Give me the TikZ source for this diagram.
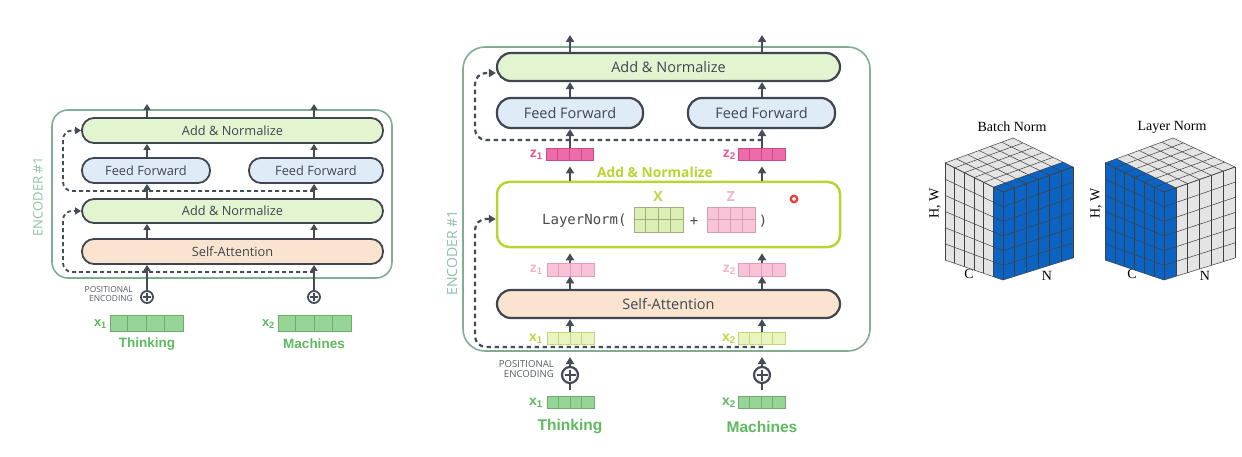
\documentclass[tikz,border=0pt]{standalone}
\usepackage{fontspec}
\setmainfont{Open Sans}
\newfontfamily\arb{Liberation Sans}
\newfontfamily\mono{DejaVu Sans Mono}
\newfontfamily\tms{Liberation Serif}
\usetikzlibrary{arrows.meta,calc}
\definecolor{boxline}{HTML}{3F4651}
\definecolor{anfill}{HTML}{E3F4D0}
\definecolor{fffill}{HTML}{E0EBF8}
\definecolor{safill}{HTML}{FBE4CF}
\definecolor{encline}{HTML}{7FAE92}
\definecolor{enctext}{HTML}{8CC3A6}
\definecolor{grtext}{HTML}{5DBB5D}
\definecolor{xfill}{HTML}{97D497}
\definecolor{xline}{HTML}{6AAE6A}
\definecolor{lxfill}{HTML}{E8F5BE}
\definecolor{lxline}{HTML}{C3D67C}
\definecolor{lxtext}{HTML}{C4D245}
\definecolor{zdfill}{HTML}{EE6BAA}
\definecolor{zdline}{HTML}{D0468A}
\definecolor{zdtext}{HTML}{E8559A}
\definecolor{zlfill}{HTML}{F8C3D8}
\definecolor{zlline}{HTML}{E49DBB}
\definecolor{zltext}{HTML}{F4B3CC}
\definecolor{lnline}{HTML}{BBD433}
\definecolor{mxfill}{HTML}{DCEFB5}
\definecolor{mxline}{HTML}{9DAE80}
\definecolor{mzfill}{HTML}{F7C4D8}
\definecolor{mzline}{HTML}{D79DB6}
\definecolor{cubegray}{HTML}{E4E4E4}
\definecolor{cubeblue}{HTML}{0B64C4}
\definecolor{cubeline}{HTML}{404040}
\definecolor{arrowc}{HTML}{454C56}
\definecolor{petext}{HTML}{555C66}
\definecolor{monotext}{HTML}{4A4A4A}
\definecolor{cursorred}{HTML}{E8403F}
\newcommand\myvec[7]{%
  \node[draw=#7, fill=#6, line width=0.8pt, inner sep=0pt, minimum width={4*#4pt}, minimum height={#5pt}] (#1) at (#2,#3) {};
  \foreach \k in {1,2,3} \draw[#7, line width=0.8pt] ($(#1.south west)+(\k*#4pt,0)$) -- ($(#1.north west)+(\k*#4pt,0)$);
}
\newcommand\mygrid[7]{%
  \node[draw=#7, fill=#6, line width=0.8pt, inner sep=0pt, minimum width={4*#4pt}, minimum height={2*#5pt}] (#1) at (#2,#3) {};
  \foreach \k in {1,2,3} \draw[#7, line width=0.8pt] ($(#1.south west)+(\k*#4pt,0)$) -- ($(#1.north west)+(\k*#4pt,0)$);
  \draw[#7, line width=0.8pt] (#1.west) -- (#1.east);
}
% face grid: corners P00 P10 P01 P11
\newcommand\facegrid[4]{%
  \foreach \i in {0,...,6} {
    \draw[cubegrid] ($(#1)!\i/6!(#2)$) -- ($(#3)!\i/6!(#4)$);
    \draw[cubegrid] ($(#1)!\i/6!(#3)$) -- ($(#2)!\i/6!(#4)$);
  }
}
\tikzset{
  pillA/.style={draw=boxline, line width=1.8pt, rounded corners=12pt, text=boxline, inner sep=0pt, font=\fontsize{12.8}{14}\selectfont},
  pillB/.style={draw=boxline, line width=2.2pt, rounded corners=14pt, text=boxline, inner sep=0pt, font=\fontsize{14.5}{16}\selectfont},
  encbox/.style={draw=encline, line width=1.6pt, inner sep=0pt},
  arrA/.style={draw=arrowc, line width=1.8pt, -{Triangle[length=6pt,width=7pt]}},
  arrB/.style={draw=arrowc, line width=2.2pt, -{Triangle[length=7pt,width=8pt]}},
  dashA/.style={draw=arrowc, line width=1.8pt, dash pattern=on 4pt off 3pt, rounded corners=9pt, -{Triangle[length=6pt,width=7pt]}},
  dashB/.style={draw=arrowc, line width=2.2pt, dash pattern=on 4.5pt off 3.5pt, rounded corners=11pt, -{Triangle[length=7pt,width=8pt]}},
  peA/.style={circle, draw=arrowc, line width=1.8pt, minimum size=12pt, inner sep=0pt},
  peB/.style={circle, draw=arrowc, line width=2.2pt, minimum size=16pt, inner sep=0pt},
  wordA/.style={text=grtext, font=\arb\bfseries\fontsize{13.5}{15}\selectfont},
  wordB/.style={text=grtext, font=\arb\bfseries\fontsize{15.5}{17}\selectfont},
  cubegrid/.style={draw=cubeline, line width=0.5pt},
  cubelab/.style={font=\tms\fontsize{14}{16}\selectfont, text=black},
  lblA/.style={anchor=east, font=\arb\bfseries\fontsize{13}{15}\selectfont, inner sep=0pt},
  lblB/.style={anchor=east, font=\arb\bfseries\fontsize{14}{16}\selectfont, inner sep=0pt},
}
\begin{document}
\begin{tikzpicture}[x=1pt,y=-1pt]
\useasboundingbox (0,0) rectangle (1242,457);
\fill[white] (0,0) rectangle (1242,457);

% ================= LEFT ENCODER =================
\node[encbox, rounded corners=16pt, minimum width=340pt, minimum height=168pt] (encA) at (222,194) {};
\node[rotate=90, text=enctext, font=\fontsize{13}{15}\selectfont] (encAt) at (38,197) {ENCODER \#1};
\node[pillA, fill=anfill, minimum width=301pt, minimum height=25pt] (an2) at (232.5,130.5) {Add \& Normalize};
\node[pillA, fill=fffill, minimum width=128pt, minimum height=25pt] (ffL) at (146,170.5) {Feed Forward};
\node[pillA, fill=fffill, minimum width=134pt, minimum height=25pt] (ffR) at (316,170.5) {Feed Forward};
\node[pillA, fill=anfill, minimum width=301pt, minimum height=24pt] (an1) at (232.5,211) {Add \& Normalize};
\node[pillA, fill=safill, minimum width=301pt, minimum height=25pt] (sa) at (232.5,251.5) {Self-Attention};
\node[peA] (pe1) at (147,297) {};
\node[peA] (pe2) at (314,297) {};
\foreach \p in {pe1,pe2} {
  \draw[arrowc, line width=1.6pt] ($(\p.center)+(0,4.2pt)$) -- ($(\p.center)+(0,-4.2pt)$);
  \draw[arrowc, line width=1.6pt] ($(\p.center)+(-4.2pt,0)$) -- ($(\p.center)+(4.2pt,0)$);
}
\node[anchor=east, align=right, text=petext, font=\fontsize{8.4}{8.6}\selectfont, inner sep=0pt] (peAt) at (133,294) {POSITIONAL\\ENCODING};
\coordinate (outA1) at (147,104);
\coordinate (outA2) at (314,104);
\draw[arrA] (pe1.north) -- (sa.south -| pe1);
\draw[arrA] (sa.north -| pe1) -- (an1.south -| pe1);
\draw[arrA] (an1.north -| pe1) -- (ffL.south -| pe1);
\draw[arrA] (ffL.north -| pe1) -- (an2.south -| pe1);
\draw[arrA] (an2.north -| pe1) -- (outA1);
\draw[arrA] (pe2.north) -- (sa.south -| pe2);
\draw[arrA] (sa.north -| pe2) -- (an1.south -| pe2);
\draw[arrA] (an1.north -| pe2) -- (ffR.south -| pe2);
\draw[arrA] (ffR.north -| pe2) -- (an2.south -| pe2);
\draw[arrA] (an2.north -| pe2) -- (outA2);
\coordinate (dA1) at (314,272);
\coordinate (dA2) at (314,191);
\draw[dashA] (dA1) -- (63,272) -- (63,211) -- (an1.west);
\draw[dashA] (dA2) -- (63,191) -- (63,130.5) -- (an2.west);
\myvec{xa1}{146.5}{323}{18.25}{16}{xfill}{xline}
\myvec{xa2}{314.5}{323}{18.25}{16}{xfill}{xline}
\node[lblA, text=grtext] (xa1t) at (107,324) {x\textsubscript{1}};
\node[lblA, text=grtext] (xa2t) at (275,324) {x\textsubscript{2}};
\node[wordA] (thA) at (147,344) {Thinking};
\node[wordA] (maA) at (314,344) {Machines};

% ================= MIDDLE ENCODER =================
\node[encbox, rounded corners=22pt, minimum width=407pt, minimum height=304pt] (encB) at (666.5,199) {};
\node[rotate=90, text=enctext, font=\fontsize{14}{16}\selectfont] (encBt) at (452,253) {ENCODER \#1};
\node[pillB, fill=anfill, minimum width=343pt, minimum height=28pt] (anT) at (668.5,67) {Add \& Normalize};
\node[pillB, fill=fffill, minimum width=146pt, minimum height=30pt] (ffL2) at (570,113) {Feed Forward};
\node[pillB, fill=fffill, minimum width=147pt, minimum height=30pt] (ffR2) at (761.5,113) {Feed Forward};
\node[draw=lnline, line width=2.5pt, rounded corners=12pt, fill=white, minimum width=343pt, minimum height=65pt, inner sep=0pt] (ln) at (668.5,214.5) {};
\node[text=lnline, font=\bfseries\fontsize{13.8}{15}\selectfont, inner sep=0pt] (lnlab) at (655,172) {Add \& Normalize};
\node[pillB, fill=safill, minimum width=343pt, minimum height=28pt] (sa2) at (668.5,304) {Self-Attention};
\node[anchor=west, text=monotext, font=\mono\fontsize{14}{16}\selectfont, inner sep=0pt] (lnt) at (542,221) {LayerNorm(};
\mygrid{mX}{658.5}{219.5}{12.25}{12.5}{mxfill}{mxline}
\mygrid{mZ}{731}{219.5}{12}{12.5}{mzfill}{mzline}
\node[text=lxtext, font=\bfseries\fontsize{14}{16}\selectfont, inner sep=0pt] (mXt) at (658,197) {X};
\node[text=zltext, font=\bfseries\fontsize{14}{16}\selectfont, inner sep=0pt] (mZt) at (731,197) {Z};
\node[text=monotext, font=\mono\fontsize{14}{16}\selectfont, inner sep=0pt] (plus) at (694,221) {+};
\node[text=monotext, font=\mono\fontsize{14}{16}\selectfont, inner sep=0pt] (rpar) at (763,221) {)};
\node[circle, draw=cursorred, line width=2.3pt, minimum size=6.5pt, inner sep=0pt] (cursor) at (794,199) {};
% vectors
\myvec{zd1}{570}{154}{11.75}{12}{zdfill}{zdline}
\myvec{zd2}{761.5}{154}{11.75}{12}{zdfill}{zdline}
\myvec{zl1}{570.5}{269.5}{11.75}{13}{zlfill}{zlline}
\myvec{zl2}{761.5}{269.5}{11.75}{13}{zlfill}{zlline}
\myvec{xl1}{570.5}{338.5}{11.75}{12}{lxfill}{lxline}
\myvec{xl2}{761.5}{338.5}{11.75}{12}{lxfill}{lxline}
\myvec{xg1}{570.5}{402}{11.75}{12}{xfill}{xline}
\myvec{xg2}{761.5}{402}{11.75}{12}{xfill}{xline}
\node[lblB, text=zdtext] (zd1t) at (543,155) {z\textsubscript{1}};
\node[lblB, text=zdtext] (zd2t) at (736,155) {z\textsubscript{2}};
\node[lblB, text=zltext] (zl1t) at (543,270) {z\textsubscript{1}};
\node[lblB, text=zltext] (zl2t) at (736,270) {z\textsubscript{2}};
\node[lblB, text=lxtext] (xl1t) at (543,339) {x\textsubscript{1}};
\node[lblB, text=lxtext] (xl2t) at (736,339) {x\textsubscript{2}};
\node[lblB, text=grtext] (xg1t) at (543,403) {x\textsubscript{1}};
\node[lblB, text=grtext] (xg2t) at (736,403) {x\textsubscript{2}};
\node[peB] (peB1) at (570,375) {};
\node[peB] (peB2) at (762,375) {};
\foreach \p in {peB1,peB2} {
  \draw[arrowc, line width=2pt] ($(\p.center)+(0,5.5pt)$) -- ($(\p.center)+(0,-5.5pt)$);
  \draw[arrowc, line width=2pt] ($(\p.center)+(-5.5pt,0)$) -- ($(\p.center)+(5.5pt,0)$);
}
\node[anchor=east, align=right, text=petext, font=\fontsize{9.6}{10.2}\selectfont, inner sep=0pt] (peBt) at (554,369) {POSITIONAL\\ENCODING};
\node[wordB] (thB) at (570,427) {Thinking};
\node[wordB] (maB) at (762,427) {Machines};
\coordinate (outB1) at (570,35);
\coordinate (outB2) at (762,35);
\coordinate (inB1) at (570,357);
\coordinate (inB2) at (762,357);
\foreach \c/\f/\zd/\zl/\xl/\xg/\pe/\o/\i in {peB1/ffL2/zd1/zl1/xl1/xg1/peB1/outB1/inB1, peB2/ffR2/zd2/zl2/xl2/xg2/peB2/outB2/inB2} {
  \draw[arrB] (anT.north -| \c) -- (\o);
  \draw[arrB] (\f.north -| \c) -- (anT.south -| \c);
  \draw[arrB] (\zd.north -| \c) -- (\f.south -| \c);
  \draw[arrB, shorten >=6pt] (ln.north -| \c) -- (\zd.south -| \c);
  \draw[arrB, shorten >=5pt] (\zl.north -| \c) -- (ln.south -| \c);
  \draw[arrB] (sa2.north -| \c) -- (\zl.south -| \c);
  \draw[arrB] (\xl.north -| \c) -- (sa2.south -| \c);
  \draw[arrB] (\pe.north) -- (\i);
  \draw[arrowc, line width=2.2pt, shorten >=6pt] (\pe.south) -- (\xg.north -| \c);
}
\coordinate (dB1) at (763,347);
\coordinate (dB2) at (762,140);
\draw[dashB] (dB1) -- (475,347) -- (475,219) -- (ln.west |- 0,219);
\draw[dashB] (dB2) -- (475,140) -- (475,73) -- (anT.west |- 0,73);

% ================= CUBES =================
\node[cubelab] (bnt) at (1012,127) {Batch Norm};
\node[cubelab] (lnt2) at (1172,127) {Layer Norm};
\node[cubelab, rotate=90] (bhw) at (935,203) {H, W};
\node[cubelab, rotate=90] (lhw) at (1096,203) {H, W};
\node[cubelab] (bc) at (969,274) {C};
\node[cubelab] (bn) at (1047,276) {N};
\node[cubelab] (lc) at (1132,274) {C};
\node[cubelab] (lnn) at (1205,276) {N};
% Batch Norm cube corners
\coordinate (bA) at (945,163);  \coordinate (bB) at (1013,138);
\coordinate (bF) at (1003,192); \coordinate (bR) at (1073,167);
\coordinate (bL) at (945,260);  \coordinate (bFb) at (1003,280);
\coordinate (bRb) at (1073,258);
\fill[cubegray] (bA) -- (bF) -- (bFb) -- (bL) -- cycle;
\fill[cubegray] (bA) -- (bF) -- (bR) -- (bB) -- cycle;
\fill[cubeblue] ($(bA)!5/6!(bF)$) -- (bF) -- (bFb) -- ($(bL)!5/6!(bFb)$) -- cycle;
\fill[cubeblue] ($(bA)!5/6!(bF)$) -- (bF) -- (bR) -- ($(bB)!5/6!(bR)$) -- cycle;
\fill[cubeblue] (bF) -- (bR) -- (bRb) -- (bFb) -- cycle;
\facegrid{bA}{bF}{bL}{bFb}
\facegrid{bA}{bF}{bB}{bR}
\facegrid{bF}{bR}{bFb}{bRb}
% Layer Norm cube corners
\coordinate (lA) at (1105,163);  \coordinate (lB) at (1173,138);
\coordinate (lF) at (1164,192);  \coordinate (lR) at (1235,167);
\coordinate (lL) at (1105,260);  \coordinate (lFb) at (1164,280);
\coordinate (lRb) at (1235,258);
\fill[cubeblue] (lA) -- (lF) -- (lFb) -- (lL) -- cycle;
\fill[cubegray] (lA) -- (lF) -- (lR) -- (lB) -- cycle;
\fill[cubegray] (lF) -- (lR) -- (lRb) -- (lFb) -- cycle;
\fill[cubeblue] (lA) -- (lF) -- ($(lF)!1/6!(lR)$) -- ($(lA)!1/6!(lB)$) -- cycle;
\fill[cubeblue] (lF) -- ($(lF)!1/6!(lR)$) -- ($(lFb)!1/6!(lRb)$) -- (lFb) -- cycle;
\facegrid{lA}{lF}{lL}{lFb}
\facegrid{lA}{lF}{lB}{lR}
\facegrid{lF}{lR}{lFb}{lRb}
\end{tikzpicture}
\end{document}
